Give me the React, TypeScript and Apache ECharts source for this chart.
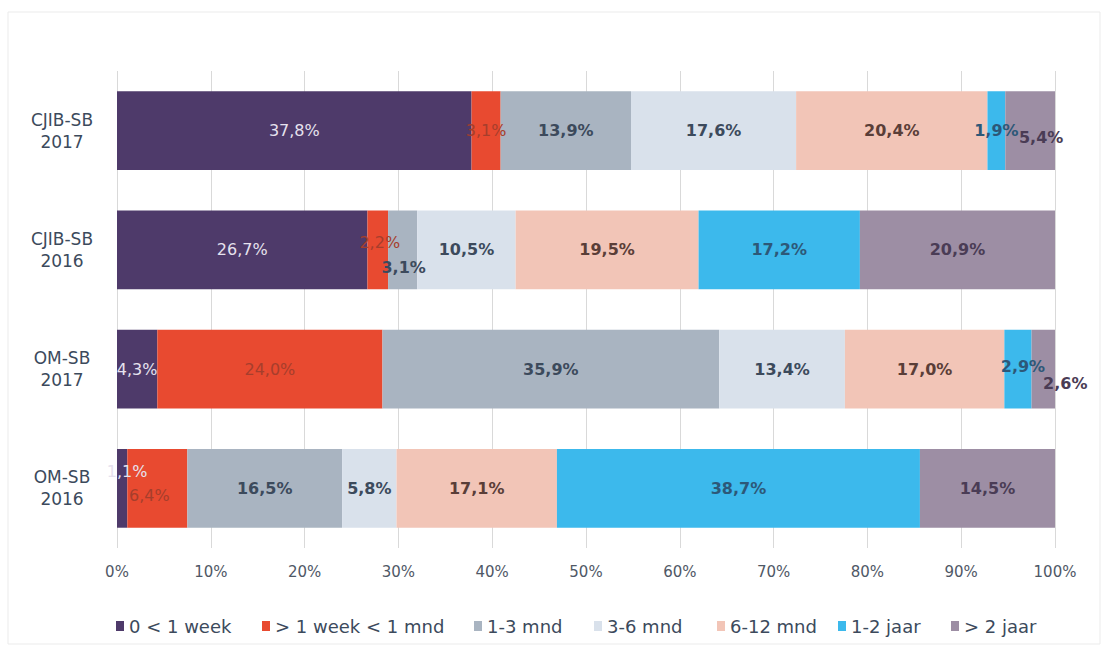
import React, { useEffect, useRef } from "react";
import * as echarts from "echarts";

const categories = ["CJIB-SB\n2017", "CJIB-SB\n2016", "OM-SB\n2017", "OM-SB\n2016"];
const seriesNames = ["0 < 1 week", "> 1 week < 1 mnd", "1-3 mnd", "3-6 mnd", "6-12 mnd", "1-2 jaar", "> 2 jaar"];
const week0 = [37.8, 26.7, 4.3, 1.1];
const week1 = [3.1, 2.2, 24.0, 6.4];
const mnd13 = [13.9, 3.1, 35.9, 16.5];
const mnd36 = [17.6, 10.5, 13.4, 5.8];
const mnd612 = [20.4, 19.5, 17.0, 17.1];
const jaar12 = [1.9, 17.2, 2.9, 38.7];
const jaar2 = [5.4, 20.9, 2.6, 14.5];
const xTicks = [0, 10, 20, 30, 40, 50, 60, 70, 80, 90, 100];

const values = [week0, week1, mnd13, mnd36, mnd612, jaar12, jaar2];
const colors = ["#4e3a6a", "#e84a30", "#a9b4c1", "#d9e1eb", "#f2c5b7", "#3cb9ec", "#9d8ea4"];
const labelColors = ["#e6e2ee", "#a63e2c", "#3c4a5c", "#3c4a5c", "#5a3e38", "#2d5878", "#4a3c55"];
const labelWeights = ["normal", "normal", "bold", "bold", "bold", "bold", "bold"];
// label offsets: [seriesIndex][categoryIndex]
const offsets: Record<string, number[]> = {
  "6-0": [11, 7],
  "1-1": [2, -7],
  "2-1": [1, 18],
  "5-2": [5, -3],
  "6-2": [22, 14],
  "0-3": [5, -17],
  "1-3": [-8, 7],
};
const legendLefts = [111, 257, 469, 589, 712, 833, 946];

export default function App() {
  const ref = useRef<HTMLDivElement>(null);
  useEffect(() => {
    const chart = echarts.init(ref.current!, undefined, { renderer: "svg" });
    const fmt = (v: number) => v.toFixed(1).replace(".", ",") + "%";
    const series = seriesNames.map((name, si) => ({
      name,
      type: "bar",
      stack: "total",
      barCategoryGap: "34%",
      itemStyle: { color: colors[si] },
      label: {
        show: true,
        position: "inside",
        color: labelColors[si],
        fontFamily: "DejaVu Sans",
        fontSize: 16,
        fontWeight: labelWeights[si],
        formatter: (p: any) => fmt(p.value),
      },
      data: values[si].map((v, ci) => {
        const off = offsets[`${si}-${ci}`];
        return off ? { value: v, label: { offset: off } } : v;
      }),
    }));
    chart.setOption({
      animation: false,
      backgroundColor: "#ffffff",
      graphic: [
        {
          type: "rect",
          shape: { x: 8, y: 12, width: 1092, height: 632 },
          style: { fill: "none", stroke: "#ebebeb", lineWidth: 1 },
          silent: true,
        },
      ],
      grid: { left: 117, right: 56, top: 71, bottom: 103 },
      xAxis: {
        type: "value",
        min: 0,
        max: 100,
        interval: 10,
        axisLine: { show: false },
        axisTick: { show: false },
        splitLine: { show: true, lineStyle: { color: "#d9d9d9", width: 1 } },
        axisLabel: {
          margin: 16,
          color: "#4f5866",
          fontFamily: "DejaVu Sans",
          fontSize: 15,
          formatter: (v: number) => (xTicks.includes(v) ? v + "%" : ""),
        },
      },
      yAxis: {
        type: "category",
        inverse: true,
        data: categories,
        axisLine: { show: false },
        axisTick: { show: false },
        axisLabel: {
          margin: 55,
          align: "center",
          color: "#3c4a5c",
          fontFamily: "DejaVu Sans",
          fontSize: 17,
          lineHeight: 22,
        },
      },
      legend: seriesNames.map((n, i) => ({
        data: [n],
        left: legendLefts[i],
        top: 612,
        itemWidth: 8,
        itemHeight: 10,
        itemGap: 4,
        icon: "rect",
        textStyle: { color: "#3c4a5c", fontFamily: "DejaVu Sans", fontSize: 18 },
        selectedMode: false,
      })),
      series,
    });
    return () => chart.dispose();
  }, []);
  return <div ref={ref} style={{ width: 1111, height: 651, position: "absolute", left: 0, top: 0 }} />;
}
